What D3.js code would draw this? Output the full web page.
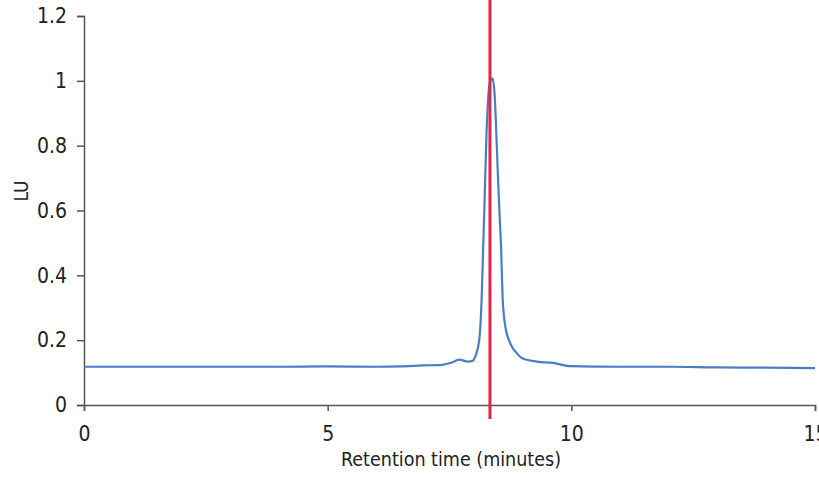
<!DOCTYPE html>
<html><head><meta charset="utf-8">
<script src="https://cdn.jsdelivr.net/npm/d3@7"></script>
<style>
body{margin:0;background:#fff;}
text{font-family:"DejaVu Sans Condensed","Liberation Sans Narrow","Roboto",sans-serif;fill:#222;}
</style></head>
<body><svg id="c" width="819" height="479"></svg>
<script>
const times  = [0,1,2,3,4,5,6,6.5,6.95,7.35,7.55,7.70,7.88,7.97,8.04,8.11,8.16,8.19,8.22,8.26,8.30,8.34,8.38,8.42,8.45,8.49,8.53,8.56,8.59,8.62,8.66,8.72,8.78,8.88,8.98,9.29,9.62,9.97,11,12,13,14,15];
const signal = [0.118,0.118,0.118,0.118,0.118,0.119,0.118,0.119,0.122,0.124,0.131,0.140,0.134,0.136,0.154,0.200,0.330,0.480,0.630,0.840,0.960,1.000,1.008,0.970,0.880,0.720,0.580,0.480,0.330,0.270,0.230,0.200,0.180,0.160,0.145,0.134,0.130,0.120,0.118,0.118,0.116,0.115,0.114];
const xTicks = [0,5,10,15];
const yTicks = [0,0.2,0.4,0.6,0.8,1,1.2];
const markerTime = 8.33;

const svg = d3.select("#c");
const x = d3.scaleLinear().domain([0,15]).range([84,815]);
const y = d3.scaleLinear().domain([0,1.2]).range([405,16]);

const xa = svg.append("g").attr("transform","translate(0,405)")
  .call(d3.axisBottom(x).tickValues(xTicks).tickFormat(d3.format("d")).tickSizeOuter(0).tickSize(6).tickPadding(15));
const ya = svg.append("g").attr("transform","translate(84,0)")
  .call(d3.axisLeft(y).tickValues(yTicks).tickFormat(d=>d===0?"0":String(+d.toFixed(1))).tickSizeOuter(0).tickSize(7).tickPadding(10));
[xa,ya].forEach(g=>{
  g.selectAll("path,line").attr("stroke","#555").attr("stroke-width",1.5);
  g.selectAll("text").attr("font-size",21).attr("fill","#222")
   .attr("font-family","'DejaVu Sans Condensed','Liberation Sans Narrow',Roboto,sans-serif");
});

const line = d3.line().x((d,i)=>x(times[i])).y(d=>y(d)).curve(d3.curveMonotoneX);
svg.append("path").datum(signal).attr("d",line)
  .attr("fill","none").attr("stroke","#4a7ec2").attr("stroke-width",2.2);

svg.append("line").attr("x1",x(markerTime)).attr("x2",x(markerTime))
  .attr("y1",0).attr("y2",419).attr("stroke","#e4254a").attr("stroke-width",3);

svg.append("text").attr("x",451).attr("y",466).attr("text-anchor","middle")
  .attr("font-size",19.5).text("Retention time (minutes)");
svg.append("text").attr("transform","translate(28,191) rotate(-90)").attr("text-anchor","middle")
  .attr("font-size",19).text("LU");
</script></body></html>
